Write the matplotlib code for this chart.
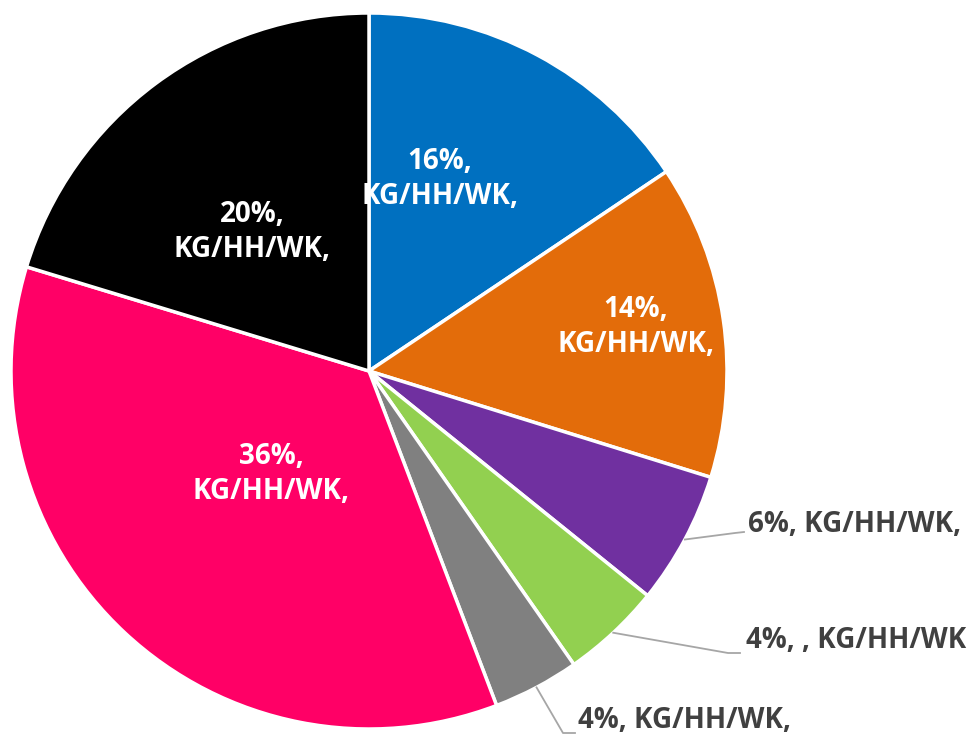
import matplotlib
matplotlib.use("Agg")
import matplotlib.pyplot as plt
import numpy as np

# Data
categories = ["Blue", "Orange", "Purple", "Green", "Gray", "Pink", "Black"]
values = [15.6, 14.2, 6.0, 4.5, 3.9, 35.5, 20.3]
labels = ["16%,\nKG/HH/WK,", "14%,\nKG/HH/WK,", "6%, KG/HH/WK,", "4%, , KG/HH/WK",
          "4%, KG/HH/WK,", "36%,\nKG/HH/WK,", "20%,\nKG/HH/WK,"]
colors = ["#0070C0", "#E36C0A", "#7030A0", "#92D050", "#808080", "#FF0066", "#000000"]

W, H = 971, 740
fig = plt.figure(figsize=(W / 100, H / 100), dpi=100)
ax = fig.add_axes([0, 0, 1, 1])

cx, cy, R = 369, H - 371, 358
wedges, _ = ax.pie(values, colors=colors, startangle=90, counterclock=False,
                   center=(cx, cy), radius=R, frame=True,
                   wedgeprops=dict(edgecolor="white", linewidth=2.5))
ax.set_xlim(0, W)
ax.set_ylim(0, H)
ax.set_aspect("equal")
ax.axis("off")

font = ["Open Sans", "DejaVu Sans"]
fs = 20

# inside labels (layout positions, pixels from top-left)
inside = {0: (440, 179), 1: (636, 327), 5: (271, 474), 6: (252, 232)}
for i, (x, y) in inside.items():
    ax.text(x, H - y, labels[i], ha="center", va="center", color="white",
            fontsize=fs, fontweight="bold", family=font, linespacing=1.3)

# outside labels with leader lines
outside = {2: (748, H - 524), 3: (746, H - 640), 4: (578, H - 721)}
elbows = {2: [(735, H - 533)], 3: [(728, H - 653)], 4: [(563, H - 733)]}
ends = {2: (744, H - 532), 3: (740, H - 653), 4: (575, H - 733)}
for i, (tx, ty) in outside.items():
    w = wedges[i]
    ang = np.deg2rad((w.theta1 + w.theta2) / 2)
    sx = cx + R * np.cos(ang)
    sy = cy + R * np.sin(ang)
    pts = [(sx, sy)] + elbows[i] + [ends[i]]
    ax.plot([p[0] for p in pts], [p[1] for p in pts], color="#A6A6A6", lw=1.3)
    ax.text(tx, ty, labels[i], ha="left", va="center", color="#404040",
            fontsize=fs, fontweight="bold", family=font)

fig.savefig("out.png", dpi=100, facecolor="white")
